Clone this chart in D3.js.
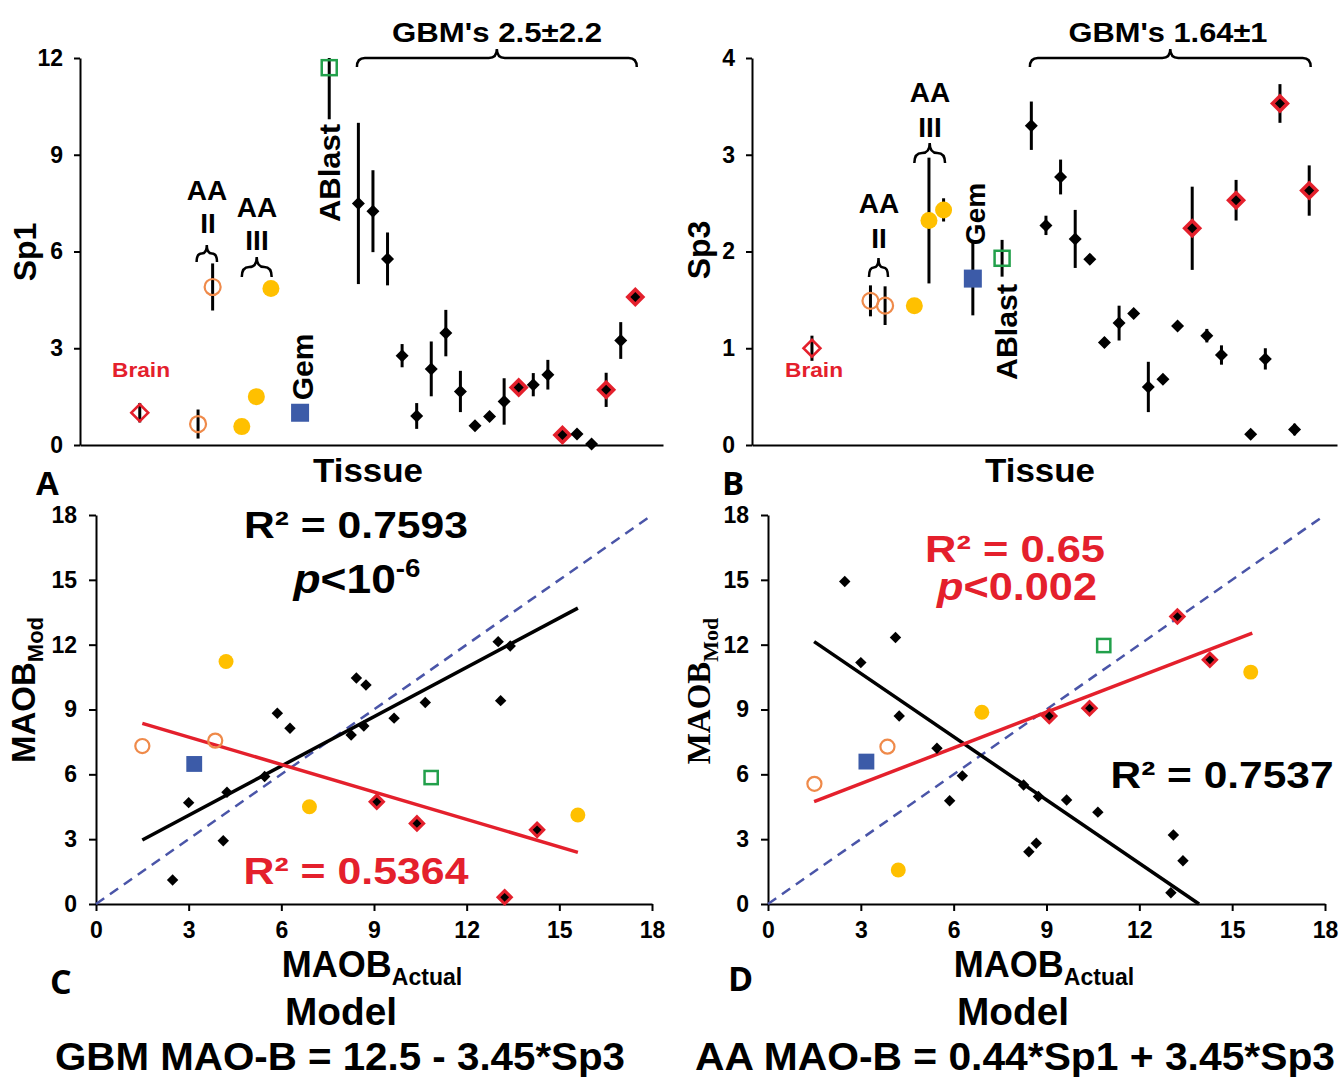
<!DOCTYPE html>
<html>
<head>
<meta charset="utf-8">
<script src="https://cdn.jsdelivr.net/npm/d3@7"></script>
<style>
body { margin: 0; background: #fff; }
svg text { font-family: "Liberation Sans", Arial, sans-serif; font-weight: bold; }
</style>
</head>
<body>
<svg width="1341" height="1077"></svg>
<script>
// ---- panels A / B : Sp1 and Sp3 per tissue sample ----
const slotDomain = [-4.1, 35.9];
const tissueSlot = [0, 4, 5, 7, 8, 9, 11, 13,
    15, 16, 17, 18, 19, 20, 21, 22, 23, 24, 25, 26, 27, 28, 29, 30, 31, 32, 33, 34];
const tissueGroup = ["brain", "aa2", "aa2", "aa3", "aa3", "aa3", "gem", "ablast",
    "gbm", "gbm", "gbm", "gbm", "gbm", "gbm", "gbm", "gbm", "gbm", "gbm", "gbm",
    "gbmRed", "gbm", "gbm", "gbmRed", "gbm", "gbm", "gbmRed", "gbm", "gbmRed"];
const sp1 = [1.0, 0.65, 4.9, 0.57, 1.5, 4.85, 1.0, 11.7,
    7.49, 7.25, 5.77, 2.77, 0.9, 2.36, 3.47, 1.66, 0.6, 0.88, 1.35,
    1.78, 1.87, 2.18, 0.31, 0.34, 0.03, 1.71, 3.24, 4.59];
const sp1Err = [0.3, 0.45, 0.73, 0.2, 0, 0, 0, 1.6,
    2.5, 1.27, 0.82, 0.36, 0.4, 0.85, 0.72, 0.64, 0, 0, 0.72,
    0, 0.36, 0.46, 0, 0, 0, 0.53, 0.57, 0];
const sp3 = [1.0, 1.49, 1.44, 1.44, 2.32, 2.43, 1.72, 1.93,
    3.30, 2.27, 2.77, 2.13, 1.92, 1.06, 1.26, 1.36, 0.6, 0.68, 1.23,
    2.24, 1.13, 0.93, 2.53, 0.11, 0.89, 3.53, 0.16, 2.63];
const sp3Err = [0.13, 0.16, 0.2, 0, 0.65, 0.12, 0.38, 0.19,
    0.25, 0.1, 0.18, 0.3, 0.05, 0.05, 0.18, 0, 0.26, 0, 0,
    0.43, 0.07, 0.1, 0.21, 0, 0.11, 0.2, 0.06, 0.26];
const sp1Ticks = [0, 3, 6, 9, 12];
const sp3Ticks = [0, 1, 2, 3, 4];

// ---- panels C / D : modelled vs actual MAO-B ----
const gbmActual = [2.48, 3.0, 4.12, 4.24, 5.46, 5.87, 6.28, 8.26, 8.43, 8.67, 8.74, 9.65, 10.66, 13.02, 13.1, 13.41];
const gbmModC = [1.11, 4.69, 2.93, 5.17, 5.9, 8.83, 8.13, 7.82, 10.46, 8.24, 10.13, 8.6, 9.32, 12.14, 9.41, 11.94];
const gbmModD = [14.92, 11.17, 12.33, 8.7, 7.21, 4.78, 5.93, 5.51, 2.42, 2.81, 4.97, 4.81, 4.25, 0.52, 3.19, 2.0];
const redActual = [9.09, 10.39, 13.23, 14.28];
const redModC = [4.73, 3.73, 0.31, 3.43];
const redModD = [8.7, 9.06, 13.3, 11.3];
const aa2Actual = [1.5, 3.86];
const aa2ModC = [7.31, 7.56];
const aa2ModD = [5.56, 7.28];
const aa3Actual = [4.21, 6.91, 15.6];
const aa3ModC = [11.22, 4.5, 4.12];
const aa3ModD = [1.57, 8.87, 10.73];
const gemActual = [3.18], gemModC = [6.48], gemModD = [6.59];
const ablastActual = [10.85], ablastModC = [5.85], ablastModD = [11.96];
const fitCBlack = [[1.5, 2.96], [15.6, 13.69]];
const fitCRed = [[1.5, 8.36], [15.6, 2.39]];
const fitDBlack = [[1.49, 12.14], [13.93, 0]];
const fitDRed = [[1.49, 4.74], [15.65, 12.53]];
const identity = [[0, 0], [18, 18]];
const maobTicks = [0, 3, 6, 9, 12, 15, 18];

const RED = "#e4202c", ORANGE = "#ef8a4a", YELLOW = "#ffc000", BLUE = "#3c5ba8", GREEN = "#22a04b";

const svg = d3.select("svg");

const diamond = r => `M0,${-r}L${r},0L0,${r}L${-r},0Z`;

const brace = (x1, x2, yEnd, yTip) => {
    const xm = (x1 + x2) / 2, ym = (yEnd + yTip) / 2, r = Math.min(8, (x2 - x1) / 4);
    return `M${x1},${yEnd}Q${x1},${ym} ${x1 + r},${ym}L${xm - r},${ym}Q${xm},${ym} ${xm},${yTip}` +
        `Q${xm},${ym} ${xm + r},${ym}L${x2 - r},${ym}Q${x2},${ym} ${x2},${yEnd}`;
};

const txt = (x, y, s, o = {}) => {
    const t = svg.append("text")
        .attr("x", x).attr("y", y)
        .attr("text-anchor", o.anchor || "middle")
        .attr("fill", o.fill || "#000")
        .style("font-size", (o.size || 28) + "px")
        .text(s);
    if (o.family) t.style("font-family", o.family);
    if (o.len) t.attr("textLength", o.len).attr("lengthAdjust", "spacingAndGlyphs");
    if (o.rotate) t.attr("transform", `rotate(-90,${x},${y})`);
    return t;
};

const subTxt = (x, y, main, sub, o) => {
    const t = svg.append("text")
        .attr("x", x).attr("y", y)
        .attr("text-anchor", "middle")
        .style("font-size", o.size + "px");
    if (o.family) t.style("font-family", o.family);
    t.append("tspan").text(main);
    t.append("tspan").attr("dy", o.shift).style("font-size", o.subSize + "px").text(sub);
    if (o.rotate) t.attr("transform", `rotate(-90,${x},${y})`);
    return t;
};

const drawMarker = (g, type, big) => {
    const k = big ? 1 : 0.88;
    if (type === "brain") {
        g.append("path").attr("d", diamond(8.5 * k)).attr("fill", "none").attr("stroke", RED).attr("stroke-width", 2.5);
    } else if (type === "aa2") {
        g.append("circle").attr("r", 8 * k).attr("fill", "none").attr("stroke", ORANGE).attr("stroke-width", 2.2);
    } else if (type === "aa3") {
        g.append("circle").attr("r", 8.5 * k).attr("fill", YELLOW);
    } else if (type === "gem") {
        const s = 18 * k;
        g.append("rect").attr("x", -s / 2).attr("y", -s / 2).attr("width", s).attr("height", s).attr("fill", BLUE);
    } else if (type === "ablast") {
        const s = 15 * k;
        g.append("rect").attr("x", -s / 2).attr("y", -s / 2).attr("width", s).attr("height", s)
            .attr("fill", "none").attr("stroke", GREEN).attr("stroke-width", 2.5);
    } else if (type === "gbmRed") {
        g.append("path").attr("d", diamond(10 * k)).attr("fill", RED);
        g.append("path").attr("d", diamond(5 * k)).attr("fill", "#000");
    } else {
        g.append("path").attr("d", diamond(6.5 * k)).attr("fill", "#000");
    }
};

const styleAxis = (sel, size) => {
    sel.select(".domain").attr("stroke", "#000").attr("stroke-width", 2);
    sel.selectAll(".tick line").attr("stroke", "#000").attr("stroke-width", 2);
    sel.selectAll(".tick text").attr("fill", "#000")
        .style("font-size", size + "px").style("font-family", "'Liberation Sans', Arial, sans-serif")
        .style("font-weight", "bold");
};

// ---------- tissue panels ----------
const tissuePanel = (cfg) => {
    const x = d3.scaleLinear().domain(slotDomain).range([cfg.left, cfg.right]);
    const y = d3.scaleLinear().domain([0, cfg.max]).range([cfg.bottom, cfg.top]);
    const g = svg.append("g");

    g.append("g")
        .attr("transform", `translate(0,${cfg.bottom})`)
        .call(d3.axisBottom(x).tickValues([]).tickSizeOuter(0))
        .call(s => styleAxis(s, 23));

    g.append("g")
        .attr("transform", `translate(${cfg.left},0)`)
        .call(d3.axisLeft(y).tickValues(cfg.ticks).tickFormat(d3.format("d"))
            .tickSize(6).tickSizeOuter(0).tickPadding(11))
        .call(s => styleAxis(s, 23));

    const rows = tissueSlot.map((slot, i) => ({ slot, type: tissueGroup[i], v: cfg.values[i], e: cfg.errors[i] }));

    g.selectAll("line.err")
        .data(rows.filter(d => d.e > 0))
        .enter().append("line")
        .attr("class", "err")
        .attr("x1", d => x(d.slot)).attr("x2", d => x(d.slot))
        .attr("y1", d => y(Math.min(cfg.max, d.v + d.e)))
        .attr("y2", d => y(Math.max(0, d.v - d.e)))
        .attr("stroke", "#000").attr("stroke-width", 3);

    g.selectAll("g.pt")
        .data(rows)
        .enter().append("g")
        .attr("class", "pt")
        .attr("transform", d => `translate(${x(d.slot)},${y(d.v)})`)
        .each(function (d) { drawMarker(d3.select(this), d.type, true); });

    // braces over groups
    cfg.braces.forEach(b => {
        g.append("path")
            .attr("d", brace(x(b.from), x(b.to), b.yEnd, b.yTip))
            .attr("fill", "none").attr("stroke", "#000").attr("stroke-width", 2.5);
    });
    return x;
};

const xA = tissuePanel({
    left: 80, right: 663, top: 58, bottom: 445, max: 12, ticks: sp1Ticks,
    values: sp1, errors: sp1Err,
    braces: [
        { from: 14.9, to: 34.1, yEnd: 67, yTip: 49 },
        { from: 3.9, to: 5.3, yEnd: 262, yTip: 245 },
        { from: 7.0, to: 9.05, yEnd: 277, yTip: 257 }
    ]
});

const xB = tissuePanel({
    left: 752, right: 1337, top: 58, bottom: 445, max: 4, ticks: sp3Ticks,
    values: sp3, errors: sp3Err,
    braces: [
        { from: 14.9, to: 34.1, yEnd: 67, yTip: 49 },
        { from: 3.9, to: 5.2, yEnd: 277, yTip: 258 },
        { from: 7.0, to: 9.1, yEnd: 163, yTip: 143 }
    ]
});

// panel A labels
txt(497, 42, "GBM's 2.5±2.2", { size: 28, len: 210 });
txt(141, 377, "Brain", { size: 21, fill: RED, len: 58 });
txt(207, 200, "AA", { size: 28 });
txt(208, 233, "II", { size: 28 });
txt(257, 217, "AA", { size: 28 });
txt(257, 250, "III", { size: 28 });
txt(313, 367, "Gem", { size: 30, rotate: true });
txt(340, 173, "ABlast", { size: 30, rotate: true, len: 98 });
txt(36, 252, "Sp1", { size: 32, rotate: true });
txt(368, 482, "Tissue", { size: 33, len: 110 });
txt(36, 495, "A", { size: 33, anchor: "start", family: "'Open Sans', sans-serif" });

// panel B labels
txt(1168, 42, "GBM's 1.64±1", { size: 28, len: 199 });
txt(814, 377, "Brain", { size: 21, fill: RED, len: 58 });
txt(879, 213, "AA", { size: 28 });
txt(879, 248, "II", { size: 28 });
txt(930, 102, "AA", { size: 28 });
txt(930, 137, "III", { size: 28 });
txt(985, 214, "Gem", { size: 28, rotate: true });
txt(1017, 332, "ABlast", { size: 30, rotate: true, len: 96 });
txt(710, 250, "Sp3", { size: 32, rotate: true });
txt(1040, 482, "Tissue", { size: 33, len: 110 });
txt(722, 495, "B", { size: 33, anchor: "start", family: "'Open Sans', sans-serif" });

// ---------- scatter panels ----------
const scatterPanel = (cfg) => {
    const x = d3.scaleLinear().domain([0, 18]).range([cfg.left, cfg.right]);
    const y = d3.scaleLinear().domain([0, 18]).range([904, 515]);
    const g = svg.append("g");

    g.append("g")
        .attr("transform", "translate(0,904)")
        .call(d3.axisBottom(x).tickValues(maobTicks).tickSize(7).tickSizeOuter(0).tickPadding(11))
        .call(s => styleAxis(s, 23));
    g.append("g")
        .attr("transform", `translate(${cfg.left},0)`)
        .call(d3.axisLeft(y).tickValues(maobTicks).tickSize(7).tickSizeOuter(0).tickPadding(12))
        .call(s => styleAxis(s, 23));

    const line = d3.line().x(d => x(d[0])).y(d => y(d[1]));
    g.append("path").datum(identity).attr("d", line)
        .attr("fill", "none").attr("stroke", "#4a55a8").attr("stroke-width", 2.5).attr("stroke-dasharray", "10,7");
    g.append("path").datum(cfg.fitBlack).attr("d", line)
        .attr("fill", "none").attr("stroke", "#000").attr("stroke-width", 3.5);
    g.append("path").datum(cfg.fitRed).attr("d", line)
        .attr("fill", "none").attr("stroke", RED).attr("stroke-width", 3.5);

    g.selectAll("g.pt")
        .data(cfg.points)
        .enter().append("g")
        .attr("class", "pt")
        .attr("transform", d => `translate(${x(d.x)},${y(d.y)})`)
        .each(function (d) { drawMarker(d3.select(this), d.type, false); });
};

const collect = (type, xs, ys) => xs.map((v, i) => ({ type, x: v, y: ys[i] }));

scatterPanel({
    left: 96, right: 652, fitBlack: fitCBlack, fitRed: fitCRed,
    points: [].concat(
        collect("aa2", aa2Actual, aa2ModC),
        collect("aa3", aa3Actual, aa3ModC),
        collect("gem", gemActual, gemModC),
        collect("ablast", ablastActual, ablastModC),
        collect("gbm", gbmActual, gbmModC),
        collect("gbmRed", redActual, redModC))
});

scatterPanel({
    left: 768, right: 1325, fitBlack: fitDBlack, fitRed: fitDRed,
    points: [].concat(
        collect("aa2", aa2Actual, aa2ModD),
        collect("aa3", aa3Actual, aa3ModD),
        collect("gem", gemActual, gemModD),
        collect("ablast", ablastActual, ablastModD),
        collect("gbm", gbmActual, gbmModD),
        collect("gbmRed", redActual, redModD))
});

// panel C labels
txt(356, 538, "R² = 0.7593", { size: 37, len: 224 });
const pC = svg.append("text").attr("x", 357).attr("y", 593).attr("text-anchor", "middle")
    .style("font-size", "40px").attr("textLength", 127).attr("lengthAdjust", "spacingAndGlyphs");
pC.append("tspan").style("font-style", "italic").text("p");
pC.append("tspan").text("<10");
pC.append("tspan").attr("dy", -16).style("font-size", "25px").text("-6");
txt(356, 884, "R² = 0.5364", { size: 37, fill: RED, len: 225 });
subTxt(35, 690, "MAOB", "Mod", { size: 33, subSize: 22, shift: 8, rotate: true });
subTxt(372, 977, "MAOB", "Actual", { size: 36, subSize: 23, shift: 8 });
txt(341, 1025, "Model", { size: 38, len: 112 });
txt(340, 1070, "GBM MAO-B = 12.5 - 3.45*Sp3", { size: 38, len: 570 });
txt(50, 994, "C", { size: 34, anchor: "start", family: "'Open Sans', sans-serif" });

// panel D labels
txt(1015, 562, "R² = 0.65", { size: 37, fill: RED, len: 180 });
const pD = svg.append("text").attr("x", 1017).attr("y", 600).attr("text-anchor", "middle")
    .attr("fill", RED).style("font-size", "38px").attr("textLength", 160).attr("lengthAdjust", "spacingAndGlyphs");
pD.append("tspan").style("font-style", "italic").text("p");
pD.append("tspan").text("<0.002");
txt(1222, 788, "R² = 0.7537", { size: 37, len: 223 });
subTxt(710, 691, "MAOB", "Mod", { size: 33, subSize: 22, shift: 8, rotate: true, family: "'Liberation Serif', 'Times New Roman', serif" });
subTxt(1044, 977, "MAOB", "Actual", { size: 36, subSize: 23, shift: 8 });
txt(1013, 1025, "Model", { size: 38, len: 112 });
txt(1015, 1070, "AA MAO-B = 0.44*Sp1 + 3.45*Sp3", { size: 38, len: 640 });
txt(728, 991, "D", { size: 34, anchor: "start", family: "'Open Sans', sans-serif" });
</script>
</body>
</html>
